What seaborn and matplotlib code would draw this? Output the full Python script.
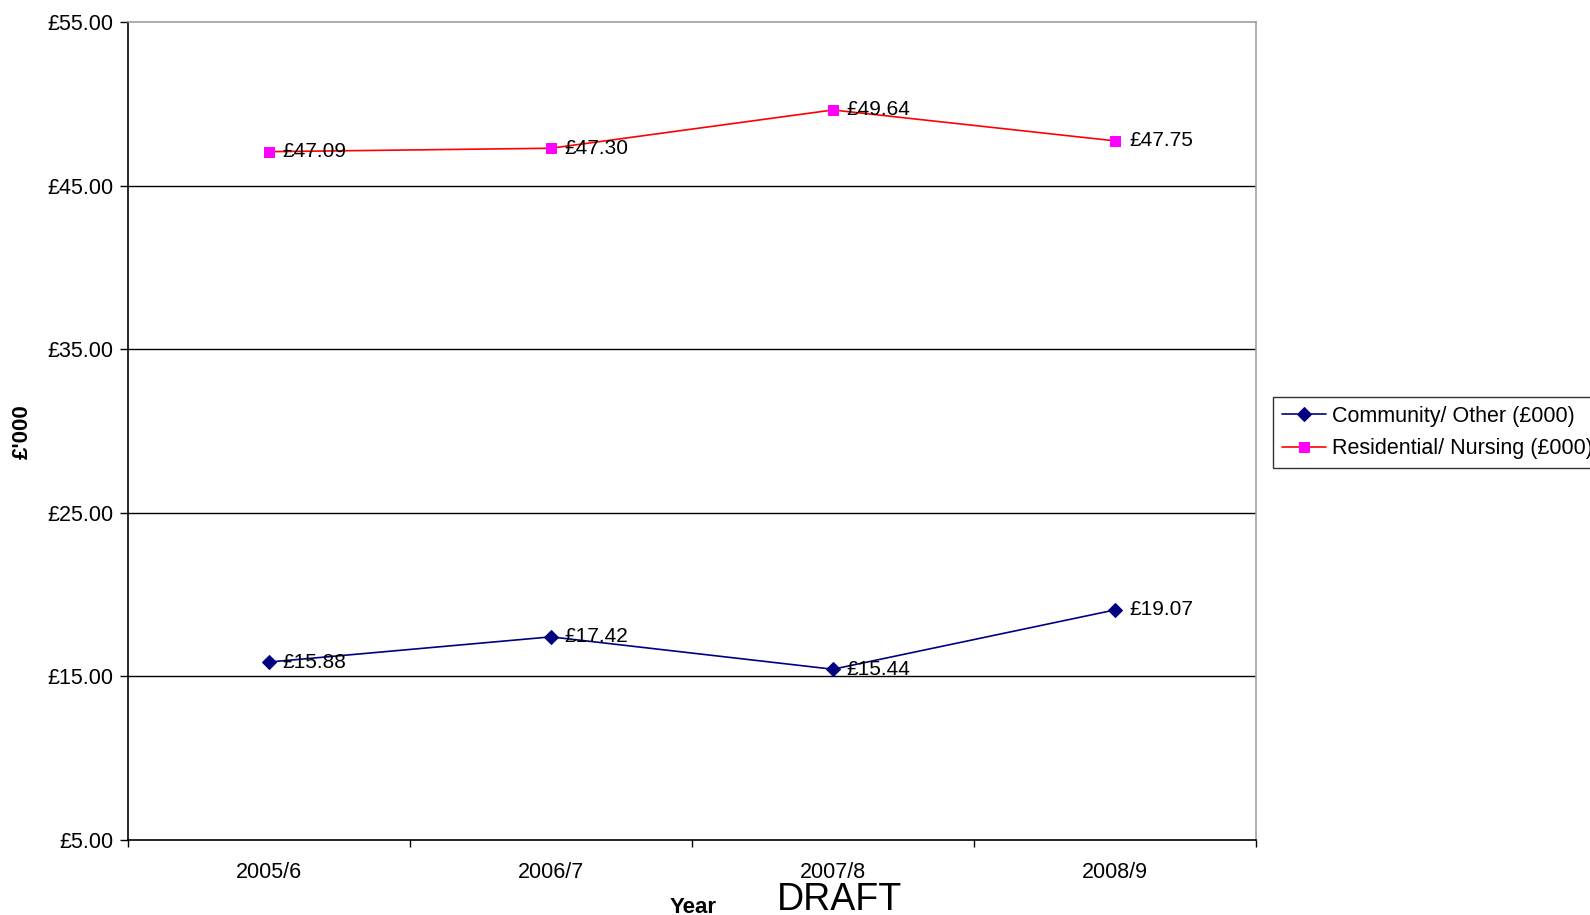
import matplotlib
matplotlib.use("Agg")
import matplotlib.pyplot as plt
import seaborn as sns
import pandas as pd
import numpy as np
from matplotlib.ticker import FixedLocator

years = ["2005/6", "2006/7", "2007/8", "2008/9"]
community = [15.88, 17.42, 15.44, 19.07]
residential = [47.09, 47.30, 49.64, 47.75]
series_names = ["Community/ Other (£000)", "Residential/ Nursing (£000)"]
y_ticks = [5, 15, 25, 35, 45, 55]

sns.set_theme(style="white")
plt.rcParams["font.family"] = ["Liberation Sans", "DejaVu Sans"]
plt.rcParams["text.color"] = "black"
plt.rcParams["xtick.color"] = "black"
plt.rcParams["ytick.color"] = "black"

fig = plt.figure(figsize=(15.9, 9.15), dpi=100)
ax = fig.add_axes([0.0803, 0.082, 0.7097, 0.8936])

df = pd.DataFrame({
    "Year": years * 2,
    "value": community + residential,
    "series": [series_names[0]] * 4 + [series_names[1]] * 4,
})

styles = {
    series_names[0]: dict(color="#000080", marker="D", mfc="#000080", mec="#000080", ms=7),
    series_names[1]: dict(color="#FF0000", marker="s", mfc="#FF00FF", mec="#FF00FF", ms=7),
}

for name in series_names:
    sub = df[df["series"] == name]
    st = styles[name]
    sns.lineplot(data=sub, x="Year", y="value", ax=ax, color=st["color"],
                 marker=st["marker"], markerfacecolor=st["mfc"],
                 markeredgecolor=st["mec"], markersize=st["ms"],
                 linewidth=1.2, label=name, sort=False)
    for i, v in enumerate(sub["value"]):
        ax.annotate(f"£{v:.2f}", (i, v), xytext=(10, 0), textcoords="offset points",
                    ha="left", va="center", fontsize=15, color="black")

ax.set_xlim(-0.5, 3.5)
ax.set_ylim(5, 55)
ax.set_yticks(y_ticks)
ax.set_yticklabels([f"£{t:.2f}" for t in y_ticks], fontsize=15.5, color="black")
ax.set_xticks(range(len(years)))
ax.set_xticklabels(years, fontsize=15.5, color="black")
ax.tick_params(axis="x", which="major", length=0, pad=16)
ax.xaxis.set_minor_locator(FixedLocator(np.arange(-0.5, 4.0, 1.0)))
ax.tick_params(axis="x", which="minor", length=5, width=1, color="black", direction="out", bottom=True)
ax.tick_params(axis="y", length=6, width=1, color="black", direction="out", left=True, pad=4)

for y in y_ticks[1:-1]:
    ax.axhline(y, color="black", linewidth=1.0, zorder=0)

ax.spines["left"].set_color("black")
ax.spines["bottom"].set_color("black")
ax.spines["top"].set_color("#a0a0a0")
ax.spines["right"].set_color("#a0a0a0")
for s in ax.spines.values():
    s.set_linewidth(1.2)
    s.set_visible(True)

ax.set_xlabel("")
ax.set_ylabel("")
fig.text(0.0138, 0.528, "£'000", rotation=90, fontsize=16, fontweight="bold",
         ha="center", va="center", color="black")
fig.text(0.436, 0.0025, "Year", fontsize=16, fontweight="bold", ha="center",
         va="baseline", color="black")
fig.text(0.528, 0.0055, "DRAFT", fontsize=27, ha="center", va="baseline", color="black")

leg = ax.legend(loc="upper left", bbox_to_anchor=(1273 / 1590, 1 - 397 / 915),
                bbox_transform=fig.transFigure, fontsize=15.5, frameon=True,
                fancybox=False, edgecolor="black", borderpad=0.4, labelspacing=0.55,
                handlelength=2.05, handletextpad=0.3, borderaxespad=0)
leg.get_frame().set_linewidth(1.0)
for t in leg.get_texts():
    t.set_color("black")

fig.savefig("out.png", dpi=100, facecolor="white")
